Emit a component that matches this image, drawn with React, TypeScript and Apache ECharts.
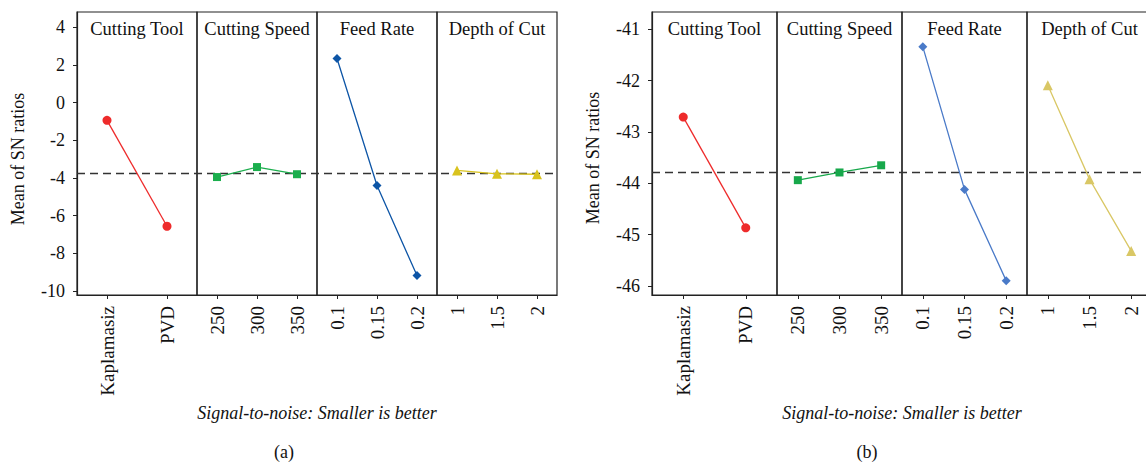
import React, { useEffect, useRef } from 'react';
import * as echarts from 'echarts';

// ---------- data ----------
const panelTitles = ['Cutting Tool', 'Cutting Speed', 'Feed Rate', 'Depth of Cut'];
const toolLevels = ['Kaplamasiz', 'PVD'];
const speedLevels = ['250', '300', '350'];
const feedLevels = ['0.1', '0.15', '0.2'];
const depthLevels = ['1', '1.5', '2'];

// (a)
const snA_tool = [-0.94, -6.56];
const snA_speed = [-3.95, -3.42, -3.8];
const snA_feed = [2.34, -4.4, -9.18];
const snA_depth = [-3.6, -3.78, -3.8];
const meanA = -3.76;
const yTicksA = [-10, -8, -6, -4, -2, 0, 2, 4];
const yRangeA = [-10.21, 4.81];

// (b)
const snB_tool = [-42.71, -44.87];
const snB_speed = [-43.94, -43.79, -43.65];
const snB_feed = [-41.34, -44.12, -45.9];
const snB_depth = [-42.09, -43.92, -45.32];
const meanB = -43.79;
const yTicksB = [-46, -45, -44, -43, -42, -41];
const yRangeB = [-46.18, -40.66];

const yAxisTitle = 'Mean of SN ratios';
const xAxisTitle = 'Signal-to-noise: Smaller is better';

// ---------- styling ----------
const FONT = '"Liberation Serif", "Times New Roman", serif';
const FS = 18;
const FS_HEAD = 18.5;
const FS_XLAB = 19;
const INK = '#111';
const FRAME = '#222';

type Cfg = {
  left: number;
  pw: number;
  top: number;
  h: number;
  values: number[][];
  mean: number;
  ticks: number[];
  range: number[];
  colors: string[];
  yNameX: number;
  yNameY: number;
  letter: string;
  letterX: number;
};

const levels = [toolLevels, speedLevels, feedLevels, depthLevels];
const symbols = ['circle', 'rect', 'diamond', 'triangle'];
const symbolSizes = [9, 8, 9, 10];

function addChart(opt: any, cfg: Cfg) {
  for (let i = 0; i < 4; i++) {
    const gi = opt.grid.length;
    opt.grid.push({
      left: cfg.left + i * cfg.pw,
      top: cfg.top,
      width: cfg.pw,
      height: cfg.h,
      show: true,
      borderColor: FRAME,
      borderWidth: 1.2,
      backgroundColor: 'transparent',
    });
    opt.xAxis.push({
      type: 'category',
      gridIndex: gi,
      data: levels[i],
      boundaryGap: true,
      axisLine: { show: true, onZero: false, lineStyle: { color: FRAME, width: 1.2 } },
      axisTick: { show: true, alignWithLabel: true, length: 4, lineStyle: { color: FRAME, width: 1 } },
      axisLabel: { rotate: 90, margin: 11, fontFamily: FONT, fontSize: FS_XLAB, color: INK, interval: 0 },
      splitLine: { show: false },
    });
    opt.yAxis.push({
      type: 'value',
      gridIndex: gi,
      min: cfg.range[0],
      max: cfg.range[1],
      show: i === 0,
      axisLine: { show: true, onZero: false, lineStyle: { color: FRAME, width: 1.2 } },
      axisTick: { show: true, length: 4, customValues: cfg.ticks, lineStyle: { color: FRAME, width: 1 } },
      axisLabel: { customValues: cfg.ticks, margin: 12, fontFamily: FONT, fontSize: FS, color: INK },
      splitLine: { show: false },
    });
    opt.series.push({
      type: 'line',
      xAxisIndex: gi,
      yAxisIndex: gi,
      data: cfg.values[i],
      symbol: symbols[i],
      symbolSize: symbolSizes[i],
      itemStyle: { color: cfg.colors[i] },
      lineStyle: { color: cfg.colors[i], width: 1.3 },
      z: 3,
    });
    opt.graphic.push({
      type: 'text',
      x: cfg.left + i * cfg.pw + cfg.pw / 2,
      y: cfg.top + 16.5,
      style: {
        text: panelTitles[i],
        fontFamily: FONT,
        fontSize: FS_HEAD,
        fill: INK,
        align: 'center',
        verticalAlign: 'middle',
      },
    });
  }
  // overlay grid for the overall mean dashed line
  const gi = opt.grid.length;
  opt.grid.push({ left: cfg.left, top: cfg.top, width: cfg.pw * 4, height: cfg.h, show: false });
  opt.xAxis.push({ type: 'value', gridIndex: gi, min: 0, max: 1, show: false });
  opt.yAxis.push({ type: 'value', gridIndex: gi, min: cfg.range[0], max: cfg.range[1], show: false });
  opt.series.push({
    type: 'line',
    xAxisIndex: gi,
    yAxisIndex: gi,
    data: [
      [0, cfg.mean],
      [1, cfg.mean],
    ],
    symbol: 'none',
    lineStyle: { color: '#333', width: 1.5, type: [8, 5] },
    z: 2,
    silent: true,
  });

  const plotCenter = cfg.left + cfg.pw * 2;
  opt.graphic.push({
    type: 'text',
    x: cfg.yNameX,
    y: cfg.yNameY,
    rotation: Math.PI / 2,
    style: { text: yAxisTitle, fontFamily: FONT, fontSize: FS, fill: INK, align: 'center', verticalAlign: 'middle' },
  });
  opt.graphic.push({
    type: 'text',
    x: plotCenter,
    y: 413,
    style: {
      text: xAxisTitle,
      fontFamily: FONT,
      fontStyle: 'italic',
      fontSize: FS,
      fill: INK,
      align: 'center',
      verticalAlign: 'middle',
    },
  });
  opt.graphic.push({
    type: 'text',
    x: cfg.letterX,
    y: 452,
    style: { text: cfg.letter, fontFamily: FONT, fontSize: FS, fill: INK, align: 'center', verticalAlign: 'middle' },
  });
}

export default function App() {
  const ref = useRef<HTMLDivElement>(null);
  useEffect(() => {
    if (!ref.current) return;
    const chart = echarts.init(ref.current, undefined, { renderer: 'svg' });
    const opt: any = {
      animation: false,
      backgroundColor: '#fff',
      grid: [],
      xAxis: [],
      yAxis: [],
      series: [],
      graphic: [],
    };
    addChart(opt, {
      left: 77,
      pw: 120,
      top: 12,
      h: 283,
      values: [snA_tool, snA_speed, snA_feed, snA_depth],
      mean: meanA,
      ticks: yTicksA,
      range: yRangeA,
      colors: ['#EE2B2B', '#1BAE4D', '#0D55A6', '#D9C31E'],
      yNameX: 18,
      yNameY: 159,
      letter: '(a)',
      letterX: 284,
    });
    addChart(opt, {
      left: 652,
      pw: 125,
      top: 12,
      h: 283,
      values: [snB_tool, snB_speed, snB_feed, snB_depth],
      mean: meanB,
      ticks: yTicksB,
      range: yRangeB,
      colors: ['#EE2B2B', '#17A84B', '#4A7AC8', '#D9C765'],
      yNameX: 593,
      yNameY: 158,
      letter: '(b)',
      letterX: 867,
    });
    chart.setOption(opt);
    return () => chart.dispose();
  }, []);
  return (
    <div
      style={{
        position: 'fixed',
        left: 0,
        top: 0,
        width: 1146,
        height: 462,
        overflow: 'hidden',
        background: '#fff',
      }}
    >
      <div ref={ref} style={{ width: 1160, height: 462 }} />
    </div>
  );
}
